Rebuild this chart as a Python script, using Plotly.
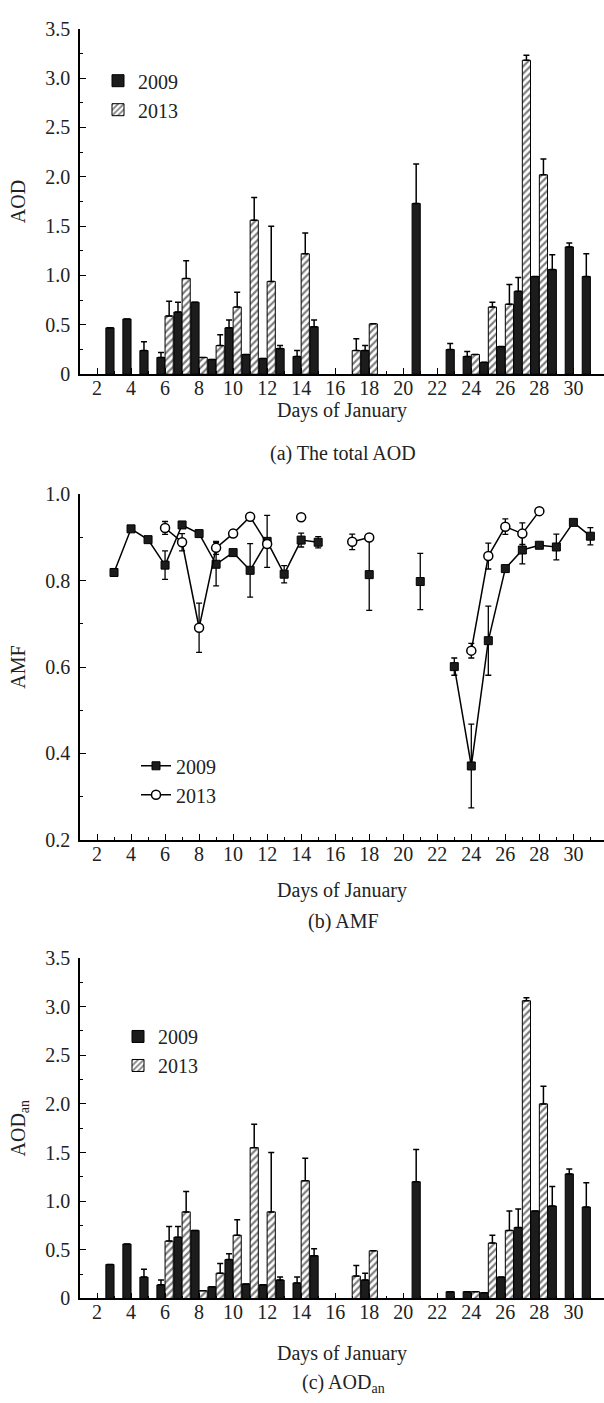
import plotly.graph_objects as go

# ---------------- data ----------------
days = list(range(3, 32))  # days of January 3..31

# (a) total AOD
aod_2009 = [0.47, 0.56, 0.24, 0.17, 0.63, 0.73, 0.15, 0.47, 0.20, 0.16, 0.26, 0.18, 0.48,
            None, None, 0.24, None, None, 1.73, None, 0.25, 0.18, 0.12, 0.28, 0.84, 0.99,
            1.06, 1.29, 0.99]
aod_2009_err = [0, 0, 0.09, 0.05, 0.10, 0, 0, 0.08, 0, 0, 0.03, 0.06, 0.07,
                0, 0, 0.05, 0, 0, 0.40, 0, 0.06, 0.05, 0, 0, 0.14, 0,
                0.15, 0.04, 0.23]
aod_2013 = [None, None, None, 0.59, 0.97, 0.17, 0.29, 0.68, 1.56, 0.94, None, 1.22, None,
            None, 0.24, 0.51, None, None, None, None, None, 0.20, 0.68, 0.71, 3.18, 2.02,
            None, None, None]
aod_2013_err = [0, 0, 0, 0.15, 0.18, 0, 0.11, 0.15, 0.23, 0.56, 0, 0.21, 0,
                0, 0.12, 0, 0, 0, 0, 0, 0, 0, 0.05, 0.20, 0.05, 0.16,
                0, 0, 0]

# (b) AMF
amf_2009 = [0.819, 0.920, 0.895, 0.836, 0.929, 0.909, 0.838, 0.865, 0.824, 0.891, 0.815, 0.894, 0.889,
            None, None, 0.814, None, None, 0.798, None, 0.601, 0.371, 0.661, 0.828, 0.871, 0.882,
            0.878, 0.935, 0.903]
amf_2009_err = [0, 0, 0, 0.033, 0, 0, 0.05, 0, 0.062, 0.06, 0.02, 0.016, 0.013,
                0, 0, 0.083, 0, 0, 0.065, 0, 0.02, 0.097, 0.08, 0, 0.032, 0,
                0.03, 0, 0.02]
amf_2013 = [None, None, None, 0.922, 0.889, 0.691, 0.876, 0.909, 0.948, 0.885, None, 0.947, None,
            None, 0.890, 0.900, None, None, None, None, None, 0.638, 0.857, 0.925, 0.909, 0.961,
            None, None, None]
amf_2013_err = [0, 0, 0, 0.015, 0.02, 0.057, 0.015, 0.008, 0, 0, 0, 0, 0,
                0, 0.018, 0, 0, 0, 0, 0, 0, 0.017, 0.03, 0.018, 0.025, 0,
                0, 0, 0]

# (c) AOD_an
aodan_2009 = [0.35, 0.56, 0.22, 0.14, 0.63, 0.70, 0.12, 0.40, 0.15, 0.14, 0.19, 0.16, 0.44,
              None, None, 0.19, None, None, 1.20, None, 0.07, 0.07, 0.06, 0.22, 0.73, 0.90,
              0.95, 1.28, 0.94]
aodan_2009_err = [0, 0, 0.08, 0.05, 0.11, 0, 0, 0.06, 0, 0, 0.03, 0.06, 0.07,
                  0, 0, 0.07, 0, 0, 0.33, 0, 0, 0, 0, 0, 0.19, 0,
                  0.20, 0.05, 0.25]
aodan_2013 = [None, None, None, 0.59, 0.89, 0.08, 0.26, 0.65, 1.55, 0.89, None, 1.21, None,
              None, 0.23, 0.49, None, None, None, None, None, 0.07, 0.57, 0.70, 3.06, 2.00,
              None, None, None]
aodan_2013_err = [0, 0, 0, 0.15, 0.21, 0, 0.10, 0.16, 0.24, 0.61, 0, 0.23, 0,
                  0, 0.11, 0, 0, 0, 0, 0, 0, 0, 0.08, 0.20, 0.03, 0.18,
                  0, 0, 0]

aod_ticks = [0, 0.5, 1.0, 1.5, 2.0, 2.5, 3.0, 3.5]
aod_ticktext = ["0", "0.5", "1.0", "1.5", "2.0", "2.5", "3.0", "3.5"]
amf_ticks = [0.2, 0.4, 0.6, 0.8, 1.0]
amf_ticktext = ["0.2", "0.4", "0.6", "0.8", "1.0"]

# ---------------- style ----------------
FONT = "Liberation Serif"
TXT = "#222222"
DARK = "#1c1c1c"
W, H = 604, 1403
FS = 20

def py(pix):
    return (H - pix) / H

fig = go.Figure()

def bar_pair(vals09, err09, vals13, err13, xa, ya, legend):
    fig.add_trace(go.Bar(
        x=days, y=vals09, name="2009", xaxis=xa, yaxis=ya, legend=legend,
        marker=dict(color=DARK, line=dict(color="black", width=1)),
        error_y=dict(type="data", array=err09, arrayminus=[0] * len(err09), symmetric=False,
                     color="black", thickness=1.5, width=3),
    ))
    fig.add_trace(go.Bar(
        x=days, y=vals13, name="2013", xaxis=xa, yaxis=ya, legend=legend,
        marker=dict(color="white", line=dict(color="black", width=1),
                    pattern=dict(shape="/", fgcolor="black", bgcolor="white", size=5, solidity=0.45)),
        error_y=dict(type="data", array=err13, arrayminus=[0] * len(err13), symmetric=False,
                     color="black", thickness=1.5, width=3),
    ))

bar_pair(aod_2009, aod_2009_err, aod_2013, aod_2013_err, "x", "y", "legend")

fig.add_trace(go.Scatter(
    x=days, y=amf_2009, name="2009", xaxis="x2", yaxis="y2", legend="legend2",
    mode="lines+markers", connectgaps=False,
    line=dict(color="black", width=1.5),
    marker=dict(symbol="square", size=8, color=DARK, line=dict(color="black", width=1)),
    error_y=dict(type="data", array=amf_2009_err, color="black", thickness=1.3, width=3),
))
fig.add_trace(go.Scatter(
    x=days, y=amf_2013, name="2013", xaxis="x2", yaxis="y2", legend="legend2",
    mode="lines+markers", connectgaps=False,
    line=dict(color="black", width=1.5),
    marker=dict(symbol="circle", size=9, color="white", line=dict(color="black", width=1.5)),
    error_y=dict(type="data", array=amf_2013_err, color="black", thickness=1.3, width=3),
))

bar_pair(aodan_2009, aodan_2009_err, aodan_2013, aodan_2013_err, "x3", "y3", "legend3")

xdom = [80 / W, 1.0]

def xaxis(anchor, standoff):
    return dict(anchor=anchor, range=[1, 31.8], tick0=0, dtick=2, ticks="inside", ticklen=6,
                tickwidth=1.3, tickcolor="black", showline=True, linecolor="black", linewidth=1.5,
                showgrid=False, zeroline=False, domain=xdom, ticklabelstandoff=-5,
                minor=dict(dtick=1, ticks="inside", ticklen=3, tickcolor="black", tickwidth=1.2),
                tickfont=dict(family=FONT, size=FS, color=TXT),
                title=dict(text="Days of January", font=dict(family=FONT, size=FS, color=TXT),
                           standoff=standoff))

ycommon = dict(ticks="inside", ticklen=6, tickwidth=1.3, tickcolor="black",
               showline=True, linecolor="black", linewidth=1.5, showgrid=False, zeroline=False,
               tickfont=dict(family=FONT, size=FS, color=TXT), ticklabelstandoff=4)

legfont = dict(family=FONT, size=FS, color=TXT)

fig.update_layout(
    width=W, height=H,
    margin=dict(l=0, r=0, t=0, b=0),
    paper_bgcolor="white", plot_bgcolor="white",
    barmode="group", bargap=0.04, bargroupgap=0,
    font=dict(family=FONT, size=FS, color=TXT),
    xaxis=xaxis("y", 5),
    xaxis2=xaxis("y2", 19),
    xaxis3=xaxis("y3", 24),
    yaxis=dict(**ycommon, anchor="x", range=[0, 3.5], domain=[py(369), py(18)],
               tickvals=aod_ticks, ticktext=aod_ticktext,
               minor=dict(dtick=0.25, ticks="inside", ticklen=3, tickcolor="black"),
               title=dict(text="AOD", font=dict(family=FONT, size=FS, color=TXT), standoff=14)),
    yaxis2=dict(**ycommon, anchor="x2", range=[0.2, 1.0], domain=[py(842), py(491)],
                tickvals=amf_ticks, ticktext=amf_ticktext,
                minor=dict(dtick=0.1, ticks="inside", ticklen=3, tickcolor="black"),
                title=dict(text="AMF", font=dict(family=FONT, size=FS, color=TXT), standoff=14)),
    yaxis3=dict(**ycommon, anchor="x3", range=[0, 3.5], domain=[py(1308), py(962)],
                tickvals=aod_ticks, ticktext=aod_ticktext,
                minor=dict(dtick=0.25, ticks="inside", ticklen=3, tickcolor="black"),
                title=dict(text="AOD<sub>an</sub>", font=dict(family=FONT, size=FS, color=TXT), standoff=14)),
    legend=dict(x=98 / W, y=py(51), xanchor="left", yanchor="top", bgcolor="rgba(0,0,0,0)",
                font=legfont, tracegroupgap=0),
    legend2=dict(x=136 / W, y=py(747), xanchor="left", yanchor="top", bgcolor="rgba(0,0,0,0)",
                 font=legfont, tracegroupgap=0),
    legend3=dict(x=118 / W, y=py(1022), xanchor="left", yanchor="top", bgcolor="rgba(0,0,0,0)",
                 font=legfont, tracegroupgap=0),
    annotations=[
        dict(text="(a) The total AOD", x=343 / W, y=py(450), xref="paper", yref="paper",
             xanchor="center", yanchor="middle", showarrow=False,
             font=dict(family=FONT, size=FS, color=TXT)),
        dict(text="(b) AMF", x=343 / W, y=py(925), xref="paper", yref="paper",
             xanchor="center", yanchor="middle", showarrow=False,
             font=dict(family=FONT, size=FS, color=TXT)),
        dict(text="(c) AOD<sub>an</sub>", x=343 / W, y=py(1394), xref="paper", yref="paper",
             xanchor="center", yanchor="middle", showarrow=False,
             font=dict(family=FONT, size=FS, color=TXT)),
    ],
)

fig.write_html("out.html")
